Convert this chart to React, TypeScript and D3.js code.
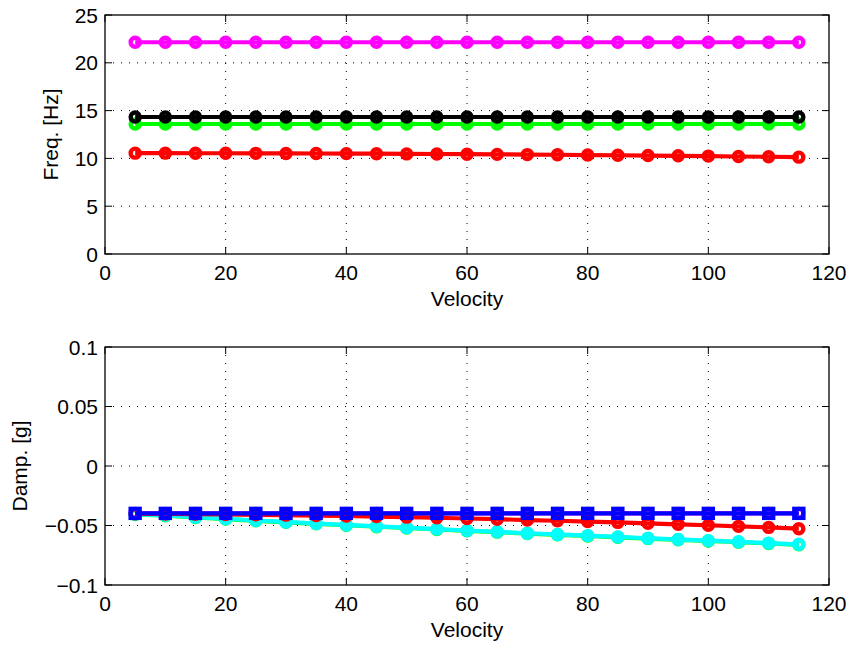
import React from "react";
import * as d3 from "d3";

const velocity = [5, 10, 15, 20, 25, 30, 35, 40, 45, 50, 55, 60, 65, 70, 75, 80, 85, 90, 95, 100, 105, 110, 115];

const freqMagenta = velocity.map(() => 22.15);
const freqBlack = velocity.map(() => 14.33);
const freqGreen = velocity.map(() => 13.6);
const freqRed = [10.55, 10.55, 10.54, 10.54, 10.53, 10.52, 10.51, 10.5, 10.49, 10.47, 10.46, 10.44, 10.42, 10.4, 10.38, 10.35, 10.33, 10.3, 10.27, 10.24, 10.2, 10.17, 10.13];

const dampMagenta = velocity.map(() => -0.0398);
const dampBlue = velocity.map(() => -0.0398);
const dampRed = [-0.0402, -0.0403, -0.0405, -0.0407, -0.041, -0.0413, -0.0417, -0.042, -0.0425, -0.043, -0.0435, -0.0441, -0.0447, -0.0454, -0.046, -0.0467, -0.0474, -0.0482, -0.049, -0.0498, -0.0507, -0.0516, -0.0527];
const dampGreen = [-0.0407, -0.0418, -0.0433, -0.0446, -0.0461, -0.0473, -0.0486, -0.0498, -0.051, -0.0521, -0.0533, -0.0545, -0.0556, -0.0568, -0.0578, -0.0588, -0.0599, -0.061, -0.062, -0.063, -0.064, -0.0651, -0.0662];
const dampCyan = [-0.0405, -0.0415, -0.043, -0.0443, -0.0458, -0.047, -0.0483, -0.0495, -0.0507, -0.0518, -0.053, -0.0542, -0.0553, -0.0565, -0.0575, -0.0585, -0.0596, -0.0607, -0.0617, -0.0627, -0.0637, -0.0648, -0.0658];

const xTicks = [0, 20, 40, 60, 80, 100, 120];
const freqTicks = [0, 5, 10, 15, 20, 25];
const dampTicks = [-0.1, -0.05, 0, 0.05, 0.1];
const dampTickLabels = ["\u22120.1", "\u22120.05", "0", "0.05", "0.1"];

type Series = { values: number[]; color: string; marker: "o" | "s" };

const freqSeries: Series[] = [
  { values: freqMagenta, color: "#ff00ff", marker: "o" },
  { values: freqRed, color: "#ff0000", marker: "o" },
  { values: freqGreen, color: "#00ff00", marker: "o" },
  { values: freqBlack, color: "#000000", marker: "o" },
];

const dampSeries: Series[] = [
  { values: dampMagenta, color: "#ff00ff", marker: "o" },
  { values: dampGreen, color: "#00ff00", marker: "o" },
  { values: dampCyan, color: "#00ffff", marker: "o" },
  { values: dampRed, color: "#ff0000", marker: "o" },
  { values: dampBlue, color: "#0000ff", marker: "s" },
];

const FONT = "'Liberation Sans', Arial, Helvetica, sans-serif";
const FS = 21;
const L = 105, R = 829;

function Panel({ top, bottom, domain, ticks, tickLabels, series, ylabel, ylabelX }: {
  top: number; bottom: number; domain: [number, number]; ticks: number[]; tickLabels: string[];
  series: Series[]; ylabel: string; ylabelX: number;
}) {
  const x = d3.scaleLinear().domain([0, 120]).range([L, R]);
  const y = d3.scaleLinear().domain(domain).range([bottom, top]);
  const line = d3.line<number>().x((_, i) => x(velocity[i])).y((d) => y(d));
  const tl = 7;
  return (
    <g>
      {xTicks.slice(1, -1).map((t) => (
        <line key={"gx" + t} x1={x(t)} x2={x(t)} y1={top} y2={bottom} stroke="#000" strokeWidth={1} strokeDasharray="1,7" />
      ))}
      {ticks.slice(1, -1).map((t) => (
        <line key={"gy" + t} x1={L} x2={R} y1={y(t)} y2={y(t)} stroke="#000" strokeWidth={1} strokeDasharray="1,7" />
      ))}
      {xTicks.map((t) => (
        <g key={"tx" + t}>
          <line x1={x(t)} x2={x(t)} y1={bottom} y2={bottom - tl} stroke="#000" />
          <line x1={x(t)} x2={x(t)} y1={top} y2={top + tl} stroke="#000" />
          <text x={x(t)} y={bottom + 26} textAnchor="middle" fontFamily={FONT} fontSize={FS}>{t}</text>
        </g>
      ))}
      {ticks.map((t, i) => (
        <g key={"ty" + t}>
          <line x1={L} x2={L + tl} y1={y(t)} y2={y(t)} stroke="#000" />
          <line x1={R} x2={R - tl} y1={y(t)} y2={y(t)} stroke="#000" />
          <text x={L - 7} y={y(t) + 7.5} textAnchor="end" fontFamily={FONT} fontSize={FS}>{tickLabels[i]}</text>
        </g>
      ))}
      {series.map((s, si) => (
        <g key={"s" + si}>
          <path d={line(s.values) || ""} fill="none" stroke={s.color} strokeWidth={4.2} strokeLinejoin="round" />
          {s.values.map((v, i) =>
            s.marker === "o" ? (
              <circle key={i} cx={x(velocity[i])} cy={y(v)} r={4.5} fill="none" stroke={s.color} strokeWidth={4.4} />
            ) : (
              <rect key={i} x={x(velocity[i]) - 4.5} y={y(v) - 4.5} width={9} height={9} fill="none" stroke={s.color} strokeWidth={4.4} />
            )
          )}
        </g>
      ))}
      <rect x={L} y={top} width={R - L} height={bottom - top} fill="none" stroke="#000" strokeWidth={1.3} />
      <text x={(L + R) / 2} y={bottom + 52} textAnchor="middle" fontFamily={FONT} fontSize={FS}>Velocity</text>
      <text transform={`translate(${ylabelX},${(top + bottom) / 2}) rotate(-90)`} textAnchor="middle" fontFamily={FONT} fontSize={FS}>{ylabel}</text>
    </g>
  );
}

export default function App() {
  return (
    <svg width={851} height={647} style={{ position: "absolute", left: 0, top: 0, background: "#fff" }}>
      <rect width={851} height={647} fill="#fff" />
      <Panel top={15} bottom={254} domain={[0, 25]} ticks={freqTicks} tickLabels={freqTicks.map(String)}
        series={freqSeries} ylabel="Freq. [Hz]" ylabelX={58} />
      <Panel top={347} bottom={585} domain={[-0.1, 0.1]} ticks={dampTicks} tickLabels={dampTickLabels}
        series={dampSeries} ylabel="Damp. [g]" ylabelX={27} />
    </svg>
  );
}
